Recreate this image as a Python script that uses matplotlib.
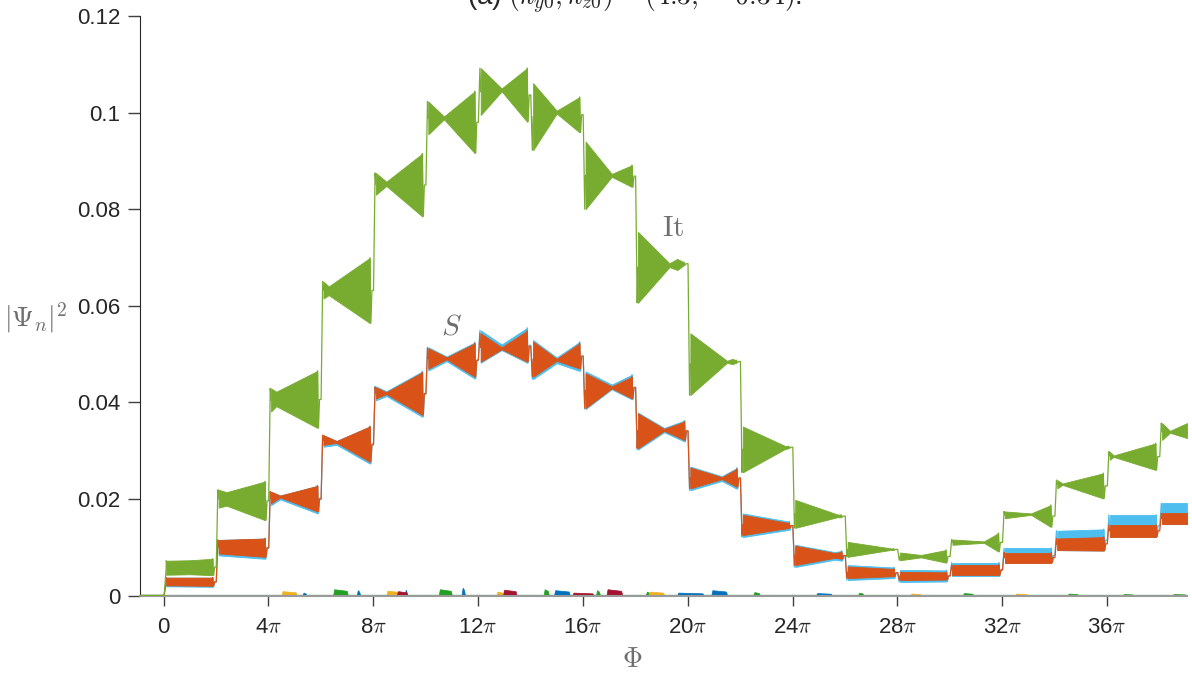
import numpy as np
import matplotlib.pyplot as plt

plt.rcParams['mathtext.fontset'] = 'cm'
plt.rcParams['font.family'] = ['Liberation Sans', 'DejaVu Sans']

PI = np.pi

# each plateau: list of (Phi/pi, upper edge, lower edge) knots of the oscillation band
it_bands = [
    [(0.10, .0072, .0043), (1.0, .0073, .0044), (1.87, .0076, .0042)],
    [(2.10, .0219, .0182), (2.4, .0214, .0186), (3.87, .0236, .0156)],
    [(4.10, .0429, .0381), (4.3, .0422, .0392), (5.87, .0465, .0347)],
    [(6.10, .0650, .0615), (6.3, .0640, .0622), (7.87, .0699, .0564)],
    [(8.10, .0875, .0830), (8.5, .0857, .0848), (9.87, .0915, .0785)],
    [(10.1, .1023, .0955), (10.7, .0992, .0986), (11.87, .1044, .0916)],
    [(12.1, .1092, .0995), (12.9, .1050, .1044), (13.87, .1092, .0981)],
    [(14.1, .1061, .0922), (15.0, .1004, .0998), (15.87, .1032, .0959)],
    [(16.1, .0940, .0800), (17.1, .0873, .0867), (17.87, .0891, .0846)],
    [(18.1, .0753, .0606), (19.3, .0688, .0680), (19.6, .0697, .0674), (19.85, .0690, .0684)],
    [(20.1, .0543, .0415), (21.5, .0486, .0482), (21.7, .0490, .0479), (21.85, .0487, .0482)],
    [(22.1, .0350, .0255), (23.7, .0310, .0303), (23.85, .0309, .0305)],
    [(24.1, .0198, .0140), (25.7, .0168, .0162), (25.85, .0167, .0162)],
    [(26.1, .0111, .0080), (27.7, .0098, .0094), (27.85, .0097, .0094)],
    [(28.1, .0089, .0073), (28.9, .0084, .0079), (29.85, .0094, .0068)],
    [(30.1, .0116, .0105), (31.3, .0112, .0109), (31.85, .0129, .0091)],
    [(32.1, .0174, .0160), (33.1, .0170, .0167), (33.85, .0187, .0142)],
    [(34.1, .0239, .0222), (34.3, .0232, .0229), (35.85, .0253, .0201)],
    [(36.1, .0298, .0281), (36.25, .0290, .0287), (37.85, .0315, .0260)],
    [(38.1, .0357, .0322), (38.4, .0341, .0337), (39.05, .0357, .0326)],
]

s_bands = [
    [(0.10, .0037, .0021), (1.87, .0037, .0020)],
    [(2.10, .0115, .0087), (3.87, .0118, .0080)],
    [(4.10, .0215, .0191), (4.45, .0207, .0203), (5.87, .0227, .0174)],
    [(6.10, .0332, .0312), (6.6, .0320, .0316), (7.87, .0350, .0277)],
    [(8.10, .0431, .0408), (8.5, .0421, .0417), (9.87, .0462, .0374)],
    [(10.1, .0512, .0470), (10.8, .0493, .0489), (11.87, .0522, .0453)],
    [(12.1, .0543, .0484), (12.9, .0514, .0510), (13.87, .0548, .0484)],
    [(14.1, .0526, .0453), (15.0, .0490, .0486), (15.87, .0522, .0470)],
    [(16.1, .0460, .0388), (17.1, .0433, .0429), (17.87, .0453, .0408)],
    [(18.1, .0377, .0305), (19.1, .0345, .0341), (19.87, .0360, .0322)],
    [(20.1, .0265, .0222), (21.3, .0245, .0241), (21.87, .0262, .0225)],
    [(22.1, .0167, .0125), (23.87, .0150, .0140)],
    [(24.1, .0103, .0063), (25.6, .0088, .0078), (25.87, .0090, .0076)],
    [(26.1, .0060, .0036), (27.87, .0055, .0040)],
    [(28.1, .0049, .0032), (29.87, .0048, .0033)],
    [(30.1, .0063, .0042), (31.87, .0063, .0042)],
    [(32.1, .0089, .0068), (33.87, .0089, .0068)],
    [(34.1, .0118, .0094), (35.87, .0121, .0093)],
    [(36.1, .0146, .0122), (37.87, .0146, .0122)],
    [(38.1, .0170, .0149), (39.05, .0170, .0149)],
]

# the second S component peeks out above / below the first one
s2_up = [0, 0, 0, 0, .0002, .0002, .0006, .0003, .0004, .0002,
         .0002, .0003, .0002, .0003, .0004, .0005, .0009, .0016, .0021, .0021]
s2_down = [.0002, .0004, .0004, .0004, .0004, .0004, .0002, .0005, .0002, .0003,
           .0004, .0004, .0004, .0004, .0004, .0002, 0, 0, 0, 0]

# small populations of the other modes: (from, to) in units of pi, height
noise = {
    '#22a022': [(6.47, 7.03, .0013), (10.5, 11.0, .0013), (14.5, 14.7, .0013), (16.5, 16.65, .0011),
                (18.4, 18.55, .0008), (22.5, 22.75, .0007), (26.5, 26.7, .0006), (30.5, 30.9, .0005),
                (34.5, 34.9, .0004), (36.6, 37.0, .0003), (38.5, 39.0, .0003)],
    '#0072bd': [(5.3, 5.45, .0006), (7.37, 7.5, .0011), (9.2, 9.3, .0012), (11.37, 11.5, .0016),
                (14.9, 15.5, .0011), (19.6, 20.6, .0006), (20.9, 21.5, .0011), (24.9, 25.5, .0005)],
    '#edb120': [(4.5, 5.08, .0009), (8.5, 9.0, .0010), (12.7, 12.95, .0008), (18.5, 19.1, .0008),
                (28.5, 28.9, .0004), (32.5, 32.95, .0004)],
    '#a2142f': [(8.9, 9.3, .0009), (12.95, 13.47, .0012), (15.6, 16.4, .0006), (16.9, 17.5, .0013)],
}

x_ticks = np.arange(0, 37, 4)
y_ticks = [0, 0.02, 0.04, 0.06, 0.08, 0.1, 0.12]

GREEN, RED, BLUE = '#77ac30', '#d95319', '#4dbeee'
GREY = '#6e6e6e'

fig = plt.figure(figsize=(11.92, 6.75), dpi=100)
ax = fig.add_axes([140/1192, 1 - 595.5/675, 1047/1192, 579.5/675])


def draw_bands(bands, color, up=None, down=None, z=2):
    edges = []
    for k, band in enumerate(bands):
        b = np.array(band)
        top, bot = b[:, 1].copy(), b[:, 2].copy()
        if up is not None:
            top += up[k]
            bot -= down[k]
        edges.append((b[:, 0] * PI, top, bot))
        ax.fill_between(b[:, 0] * PI, bot, top, color=color, lw=0.6, edgecolor=color, zorder=z)

    # thin lines: flat start at zero, then the ringing steps between plateaus
    x0, t0, b0 = edges[0]
    tx = [-1.0 * PI, 0.02 * PI, x0[0], x0[0], np.nan]
    ty = [0, 0, (t0[0] + b0[0]) / 2, t0[0], np.nan]
    for k in range(len(edges) - 1):
        xe, te, be = edges[k]
        xn, tn, bn = edges[k + 1]
        me, mn = (te[-1] + be[-1]) / 2, (tn[0] + bn[0]) / 2
        step = 2 * PI * (k + 1)
        over = tn[0] if mn > me else bn[0]
        tx += [xe[-1], xe[-1] + 0.04 * PI, xe[-1] + 0.08 * PI, step + 0.01 * PI,
               step + 0.07 * PI, xn[0], np.nan]
        ty += [te[-1], be[-1], me, me, over, mn, np.nan]
    ax.plot(tx, ty, color=color, lw=0.9, zorder=z)


ax.plot([-PI, 40 * PI], [0.0001, 0.0001], color='#22a022', lw=0.9, zorder=1.5)
for color, bumps in noise.items():
    for a, b, h in bumps:
        ax.fill_between([a * PI, a * PI + 0.04 * PI, b * PI - 0.04 * PI, b * PI],
                        0.0001, [0.0001, h, h * 0.75, 0.0001], color=color, lw=0.5,
                        edgecolor=color, zorder=1.5)

draw_bands(s_bands, BLUE, s2_up, s2_down, z=2)
draw_bands(s_bands, RED, z=3)
draw_bands(it_bands, GREEN, z=4)

ax.text(19.44 * PI, 0.0761, r'$\mathrm{It}$', color=GREY, fontsize=21, ha='center', va='center')
ax.text(11.0 * PI, 0.0556, r'$S$', color=GREY, fontsize=21, ha='center', va='center')

ax.set_xlim(-0.9 * PI, 39.05 * PI)
ax.set_ylim(0, 0.12)
ax.set_xticks(x_ticks * PI)
ax.set_xticklabels(['0'] + [rf'{t}$\pi$' for t in x_ticks[1:]])
ax.set_yticks(y_ticks)
ax.set_yticklabels(['0', '0.02', '0.04', '0.06', '0.08', '0.1', '0.12'])

for side in ['top', 'right']:
    ax.spines[side].set_visible(False)
ax.spines['left'].set_color('#262626')
ax.spines['bottom'].set_color('#9a9a9a')
ax.spines['bottom'].set_linewidth(1.5)
ax.tick_params(direction='out', width=1, colors='#404040', labelsize=16,
               labelcolor='#262626')
ax.tick_params(axis='x', length=7.5, pad=8)
ax.tick_params(axis='y', length=9, pad=5)

fig.text(36 / 1192, 1 - 318 / 675, r'$|\Psi_n|^2$', color=GREY, fontsize=20,
         ha='center', va='center')
fig.text(632 / 1192, 1 - 660 / 675, r'$\Phi$', color=GREY, fontsize=20,
         ha='center', va='center')
fig.text(634 / 1192, 1 - 5 / 675, r'(a) $(k_{y0},k_{z0})=(4.3,-0.34)$.', fontsize=20,
         ha='center', va='baseline', color='#262626')

fig.savefig('out.png', dpi=100)
